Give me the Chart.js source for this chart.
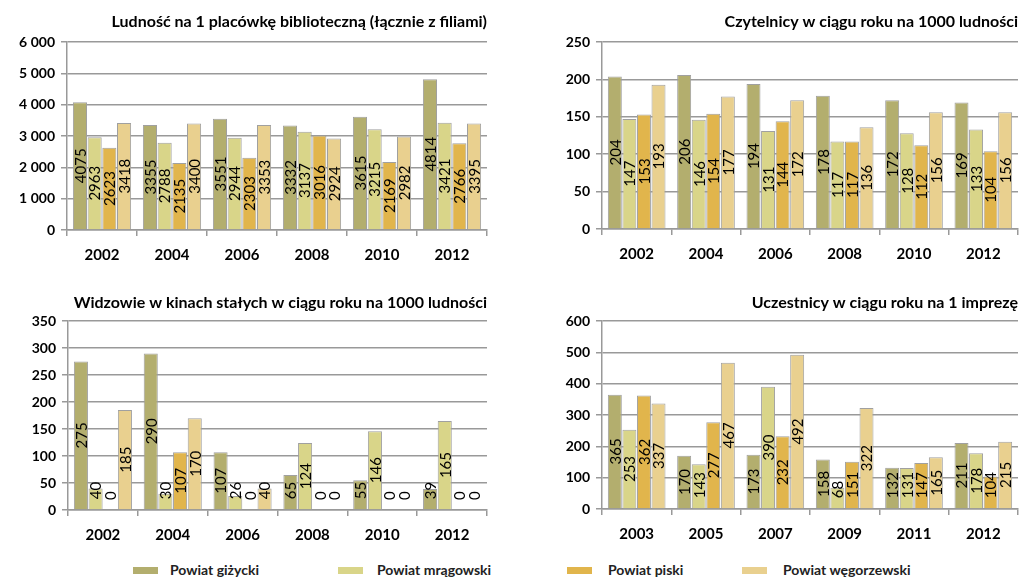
<!DOCTYPE html>
<html>
<head>
<meta charset="utf-8">
<script src="https://cdn.jsdelivr.net/npm/chart.js@4/dist/chart.umd.min.js"></script>
<style>
  body { margin: 0; background: #fff; width: 1019px; height: 578px; position: relative; overflow: hidden; font-family: Lato, sans-serif; }
  canvas { position: absolute; }
  .lg { position: absolute; top: 562px; height: 16px; font: bold 14px Lato, sans-serif; color: #222; line-height: 16px; }
  .sw { position: absolute; top: 567px; width: 25px; height: 7px; }
</style>
</head>
<body>
<canvas id="c1" style="left:0;top:0" width="495" height="270"></canvas>
<canvas id="c2" style="left:510px;top:0" width="509" height="270"></canvas>
<canvas id="c3" style="left:0;top:280px" width="495" height="270"></canvas>
<canvas id="c4" style="left:510px;top:280px" width="509" height="270"></canvas>

<div class="sw" style="left:133px;background:#b3ae6e"></div><div class="lg" style="left:170px">Powiat giżycki</div>
<div class="sw" style="left:338px;background:#d9d589"></div><div class="lg" style="left:377px">Powiat mrągowski</div>
<div class="sw" style="left:567px;background:#e1b54c"></div><div class="lg" style="left:608px">Powiat piski</div>
<div class="sw" style="left:742px;background:#e9d08f"></div><div class="lg" style="left:783px">Powiat węgorzewski</div>

<script>
const seriesNames = ["Powiat giżycki", "Powiat mrągowski", "Powiat piski", "Powiat węgorzewski"];
const colors = ["#b3ae6e", "#d9d589", "#e1b54c", "#e9d08f"];

// Ludność na 1 placówkę biblioteczną
const years1 = ["2002", "2004", "2006", "2008", "2010", "2012"];
const lud_gizycki = [4075, 3355, 3551, 3332, 3615, 4814];
const lud_mragowski = [2963, 2788, 2944, 3137, 3215, 3421];
const lud_piski = [2623, 2135, 2303, 3016, 2169, 2766];
const lud_wegorzewski = [3418, 3400, 3353, 2924, 2982, 3395];

// Czytelnicy na 1000 ludności
const years2 = ["2002", "2004", "2006", "2008", "2010", "2012"];
const czyt_gizycki = [204, 206, 194, 178, 172, 169];
const czyt_mragowski = [147, 146, 131, 117, 128, 133];
const czyt_piski = [153, 154, 144, 117, 112, 104];
const czyt_wegorzewski = [193, 177, 172, 136, 156, 156];

// Widzowie w kinach stałych na 1000 ludności
const years3 = ["2002", "2004", "2006", "2008", "2010", "2012"];
const kino_gizycki = [275, 290, 107, 65, 55, 39];
const kino_mragowski = [40, 30, 26, 124, 146, 165];
const kino_piski = [0, 107, 0, 0, 0, 0];
const kino_wegorzewski = [185, 170, 40, 0, 0, 0];

// Uczestnicy na 1 imprezę
const years4 = ["2003", "2005", "2007", "2009", "2011", "2012"];
const impr_gizycki = [365, 170, 173, 158, 132, 211];
const impr_mragowski = [253, 143, 390, 68, 131, 178];
const impr_piski = [362, 277, 232, 151, 147, 104];
const impr_wegorzewski = [337, 467, 492, 322, 165, 215];

// numbers written sideways in the middle of each bar
const barLabels = {
  id: 'barLabels',
  afterDatasetsDraw(chart) {
    const ctx = chart.ctx;
    ctx.save();
    ctx.font = '15px Lato, sans-serif';
    ctx.fillStyle = '#000';
    ctx.textAlign = 'center';
    ctx.textBaseline = 'middle';
    chart.data.datasets.forEach((ds, i) => {
      chart.getDatasetMeta(i).data.forEach((bar, j) => {
        const txt = String(ds.data[j]);
        const w = ctx.measureText(txt).width;
        let cy = (bar.y + bar.base) / 2;
        cy = Math.min(cy, bar.base - w / 2 - 10);
        ctx.save();
        ctx.translate(bar.x, cy);
        ctx.rotate(-Math.PI / 2);
        ctx.fillText(txt, 0, 1);
        ctx.restore();
      });
    });
    ctx.restore();
  }
};

function makeChart(id, title, labels, data, max, step, yWidth, xHeight, pad) {
  new Chart(id, {
    type: 'bar',
    data: {
      labels: labels,
      datasets: data.map((d, i) => ({
        label: seriesNames[i],
        data: d,
        backgroundColor: colors[i],
        borderColor: '#a0a0a0',
        borderWidth: 1,
        categoryPercentage: 0.84,
        barPercentage: 0.96
      }))
    },
    options: {
      responsive: false,
      animation: false,
      layout: { padding: { left: 0, right: pad.right, top: 0, bottom: 0 } },
      plugins: {
        legend: { display: false },
        tooltip: { enabled: false },
        title: {
          display: true,
          text: title,
          align: 'end',
          color: '#000',
          font: { family: 'Lato', size: 16, weight: 'bold' },
          padding: { top: pad.tTop, bottom: pad.tBottom }
        }
      },
      scales: {
        x: {
          grid: { offset: true, drawOnChartArea: false, color: '#999', lineWidth: 1.5, tickLength: 6 },
          border: { color: '#999', width: 1.5 },
          ticks: { color: '#000', font: { family: 'Lato', size: 15, weight: 'bold' }, padding: 10, maxRotation: 0 },
          afterFit: s => { s.height = xHeight; }
        },
        y: {
          min: 0,
          max: max,
          grid: { color: '#999', lineWidth: 1.5, tickLength: 6 },
          border: { color: '#999', width: 1.5 },
          ticks: {
            stepSize: step,
            color: '#000',
            font: { family: 'Lato', size: 14, weight: 'bold' },
            padding: 6,
            callback: v => v >= 1000 ? String(v).replace(/(\d)(\d{3})$/, '$1 $2') : String(v)
          },
          afterFit: s => { s.width = yWidth; }
        }
      }
    },
    plugins: [barLabels]
  });
}

makeChart('c1', 'Ludność na 1 placówkę biblioteczną (łącznie z filiami)', years1,
  [lud_gizycki, lud_mragowski, lud_piski, lud_wegorzewski], 6000, 1000, 67, 40,
  { right: 8, tTop: 12.4, tBottom: 10.4 });
makeChart('c2', 'Czytelnicy w ciągu roku na 1000 ludności', years2,
  [czyt_gizycki, czyt_mragowski, czyt_piski, czyt_wegorzewski], 250, 50, 92, 41,
  { right: 1, tTop: 12.4, tBottom: 10.4 });
makeChart('c3', 'Widzowie w kinach stałych w ciągu roku na 1000 ludności', years3,
  [kino_gizycki, kino_mragowski, kino_piski, kino_wegorzewski], 350, 50, 68, 40,
  { right: 8, tTop: 13.4, tBottom: 8.4 });
makeChart('c4', 'Uczestnicy w ciągu roku na 1 imprezę', years4,
  [impr_gizycki, impr_mragowski, impr_piski, impr_wegorzewski], 600, 100, 92, 41,
  { right: 1, tTop: 13.4, tBottom: 8.4 });
</script>
</body>
</html>
